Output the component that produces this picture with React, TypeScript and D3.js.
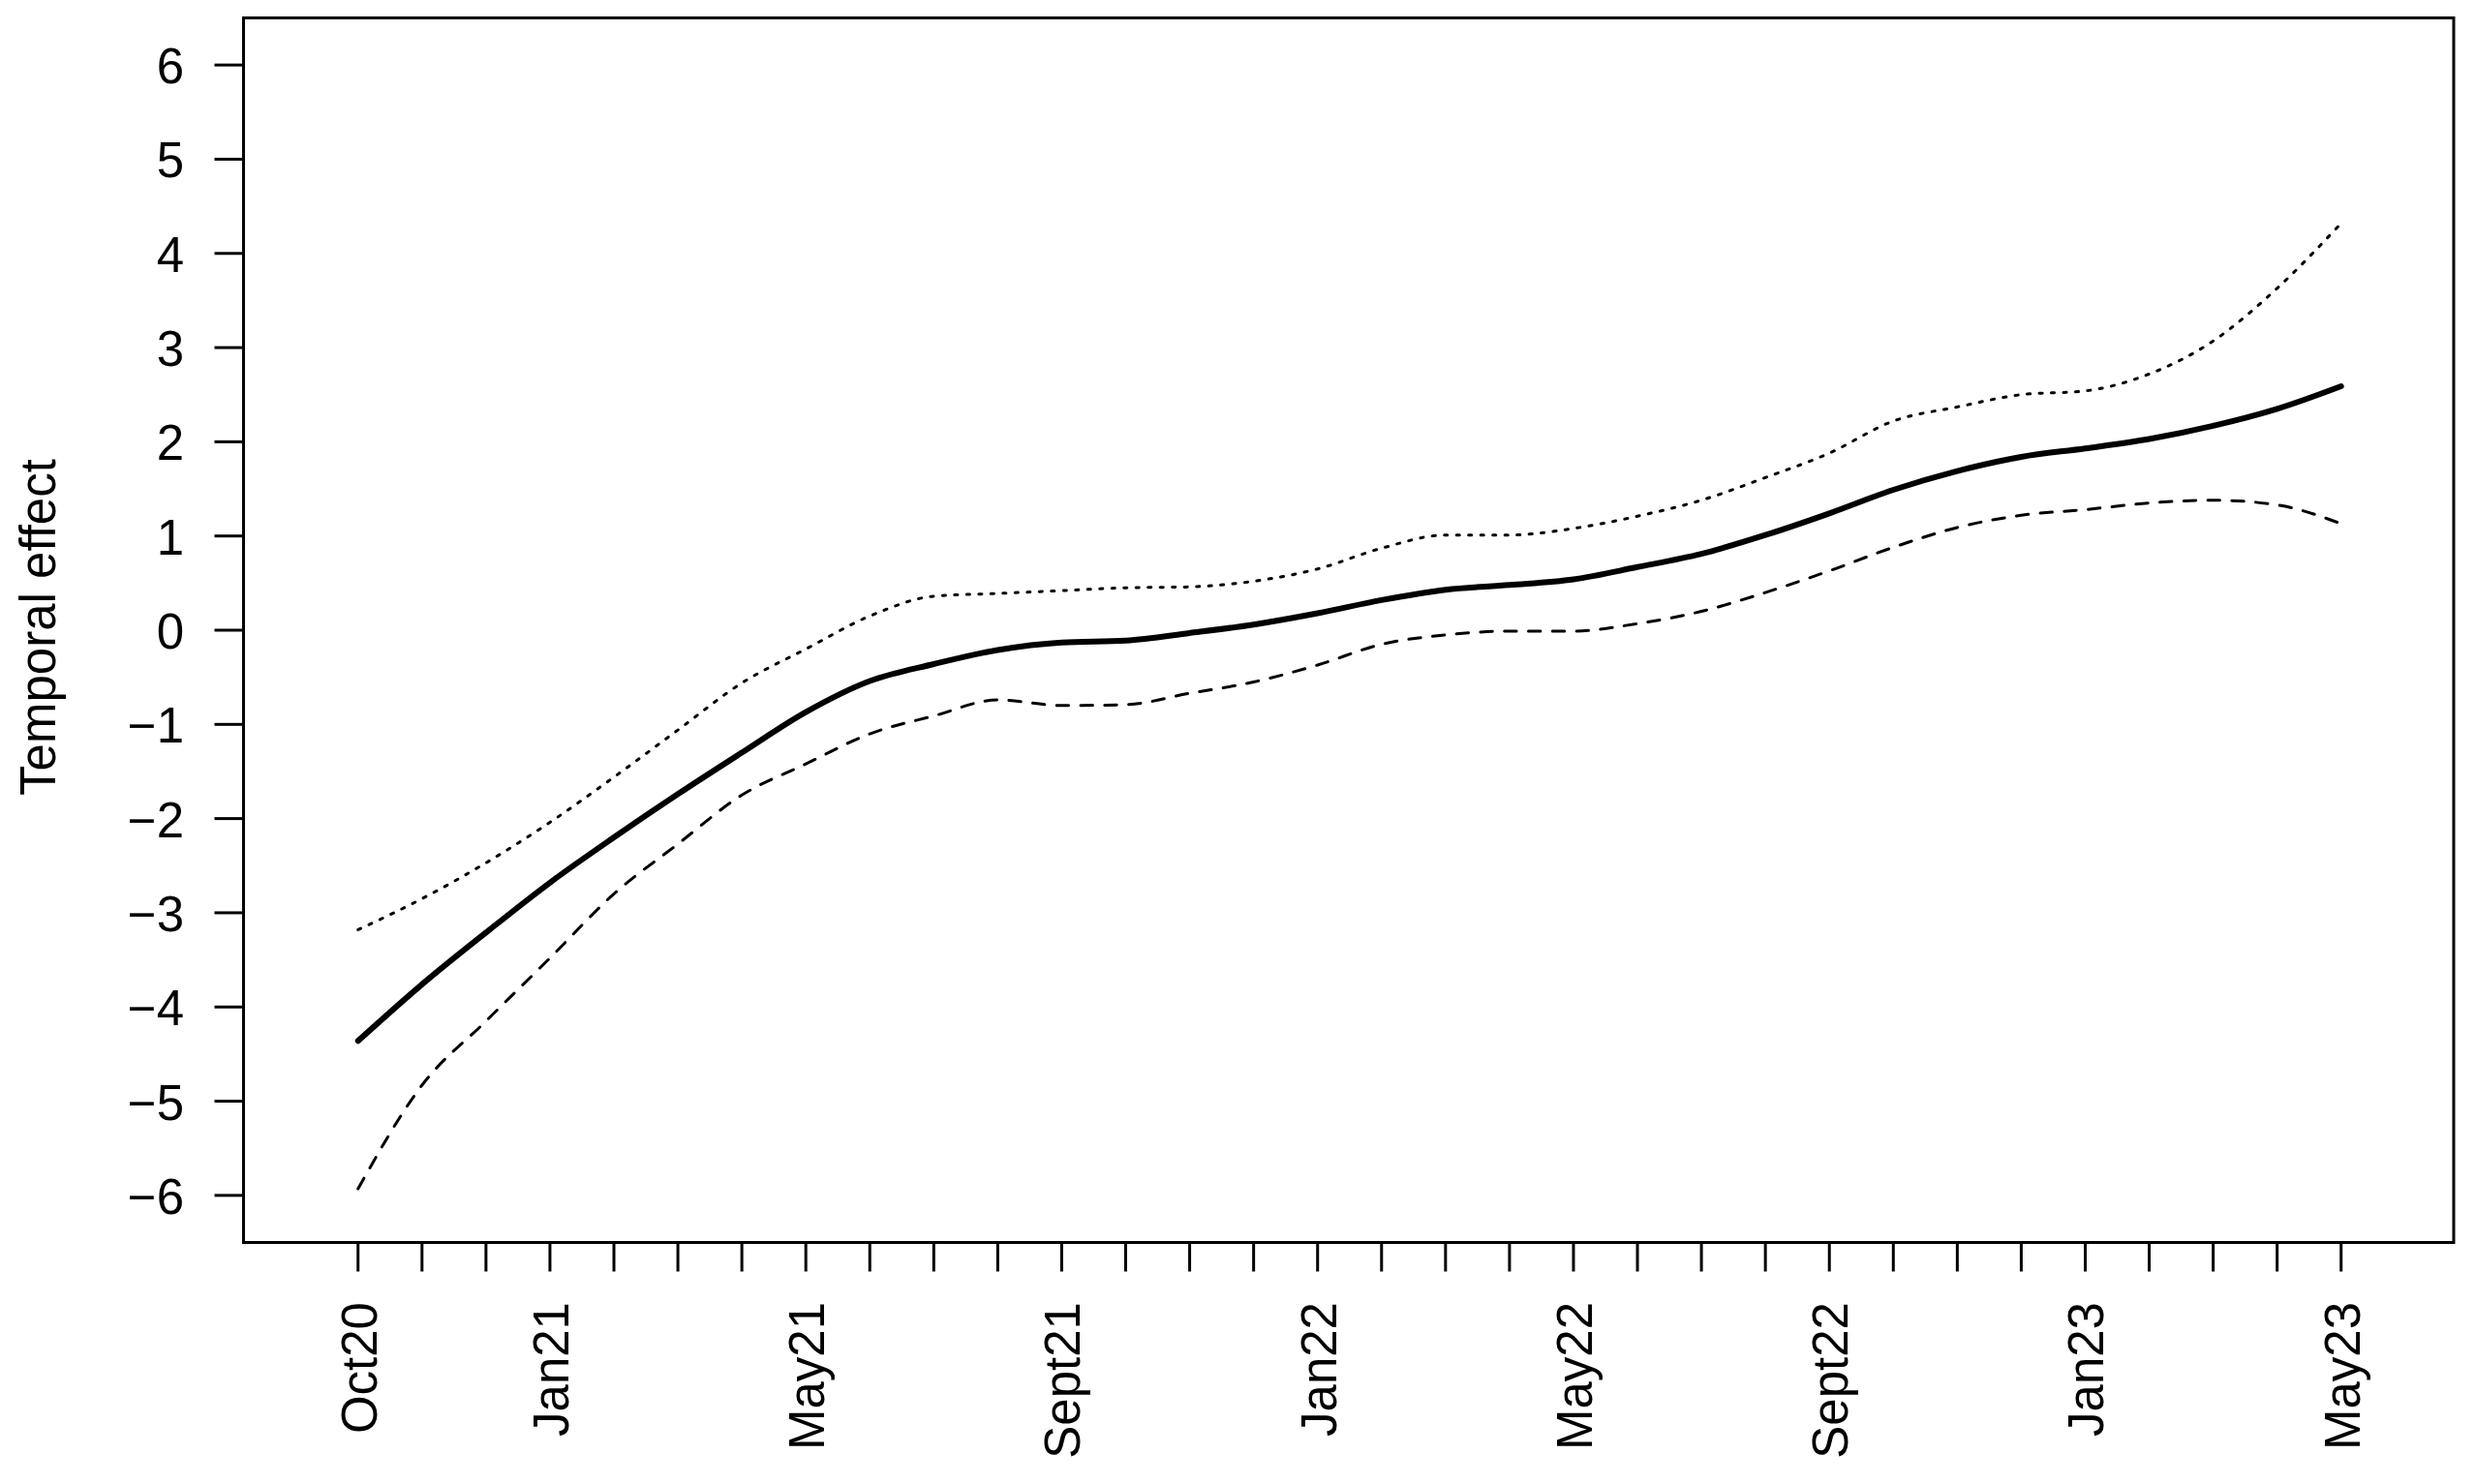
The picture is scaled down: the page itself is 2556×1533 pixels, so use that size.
import React from "react";
import * as d3 from "d3";

const monthLabels = [
  "Oct20","Nov20","Dec20","Jan21","Feb21","Mar21","Apr21","May21","Jun21","Jul21","Aug21","Sept21",
  "Oct21","Nov21","Dec21","Jan22","Feb22","Mar22","Apr22","May22","Jun22","Jul22","Aug22","Sept22",
  "Oct22","Nov22","Dec22","Jan23","Feb23","Mar23","Apr23","May23",
];
const labeledMonths = ["Oct20","Jan21","May21","Sept21","Jan22","May22","Sept22","Jan23","May23"];
const yTicks = [-6, -5, -4, -3, -2, -1, 0, 1, 2, 3, 4, 5, 6];

const meanEffect = [
  -4.36, -3.76, -3.21, -2.68, -2.2, -1.74, -1.3, -0.87, -0.54, -0.36, -0.21, -0.13, -0.11, -0.03, 0.06, 0.18,
  0.32, 0.43, 0.48, 0.54, 0.67, 0.81, 1.01, 1.24, 1.49, 1.69, 1.84, 1.93, 2.03, 2.17, 2.35, 2.59,
];
const upperBound = [
  -3.18, -2.85, -2.47, -2.04, -1.56, -1.06, -0.56, -0.2, 0.15, 0.36, 0.39, 0.42, 0.45, 0.46, 0.52, 0.65,
  0.87, 1.01, 1.01, 1.08, 1.21, 1.38, 1.62, 1.88, 2.22, 2.37, 2.5, 2.54, 2.72, 3.07, 3.63, 4.32,
];
const lowerBound = [
  -5.93, -4.83, -4.15, -3.48, -2.8, -2.27, -1.75, -1.42, -1.1, -0.91, -0.74, -0.8, -0.79, -0.67, -0.55, -0.37,
  -0.15, -0.05, -0.01, -0.01, 0.07, 0.2, 0.4, 0.63, 0.88, 1.09, 1.22, 1.28, 1.35, 1.38, 1.33, 1.13,
];

const W = 2556;
const H = 1533;
const box = { left: 251.5, right: 2534, top: 18.5, bottom: 1283.5 };
const FONT = "'Liberation Sans', Arial, sans-serif";
const FS = 51;

export default function App() {
  const x = d3.scaleLinear().domain([-1.79, 32.76]).range([box.left, box.right]);
  const y = d3.scaleLinear().domain([-6.5, 6.5]).range([box.bottom, box.top]);

  const line = d3
    .line<number>()
    .x((_, i) => x(i))
    .y((d) => y(d))
    .curve(d3.curveMonotoneX);

  const tickLen = 30;

  return (
    <svg
      width={W}
      height={H}
      style={{ position: "absolute", left: 0, top: 0, background: "#fff" }}
      xmlns="http://www.w3.org/2000/svg"
    >
      <rect x={0} y={0} width={W} height={H} fill="#fff" />
      {/* curves */}
      <path d={line(upperBound) || ""} fill="none" stroke="#000" strokeWidth={3} strokeDasharray="3.1 9.4" strokeLinecap="round" />
      <path d={line(lowerBound) || ""} fill="none" stroke="#000" strokeWidth={3} strokeDasharray="12.4 12.4" strokeLinecap="round" />
      <path d={line(meanEffect) || ""} fill="none" stroke="#000" strokeWidth={6} strokeLinecap="round" strokeLinejoin="round" />

      {/* box */}
      <rect
        x={box.left}
        y={box.top}
        width={box.right - box.left}
        height={box.bottom - box.top}
        fill="none"
        stroke="#000"
        strokeWidth={3}
      />

      {/* y axis */}
      {yTicks.map((t) => (
        <g key={"y" + t}>
          <line x1={box.left - tickLen} x2={box.left} y1={y(t)} y2={y(t)} stroke="#000" strokeWidth={3} />
          <text
            x={190}
            y={y(t) + 19}
            textAnchor="end"
            fontFamily={FONT}
            fontSize={FS}
            fill="#000"
          >
            {t < 0 ? "\u2212" + Math.abs(t) : String(t)}
          </text>
        </g>
      ))}
      <text
        transform={`translate(57, 648) rotate(-90)`}
        textAnchor="middle"
        fontFamily={FONT}
        fontSize={FS}
        fill="#000"
      >
        Temporal effect
      </text>

      {/* x axis */}
      {monthLabels.map((m, i) => (
        <g key={m}>
          <line x1={x(i)} x2={x(i)} y1={box.bottom} y2={box.bottom + tickLen} stroke="#000" strokeWidth={3} />
          {labeledMonths.includes(m) && (
            <text
              transform={`translate(${x(i) + 19}, 1345) rotate(-90)`}
              textAnchor="end"
              fontFamily={FONT}
              fontSize={FS}
              fill="#000"
            >
              {m}
            </text>
          )}
        </g>
      ))}
    </svg>
  );
}
